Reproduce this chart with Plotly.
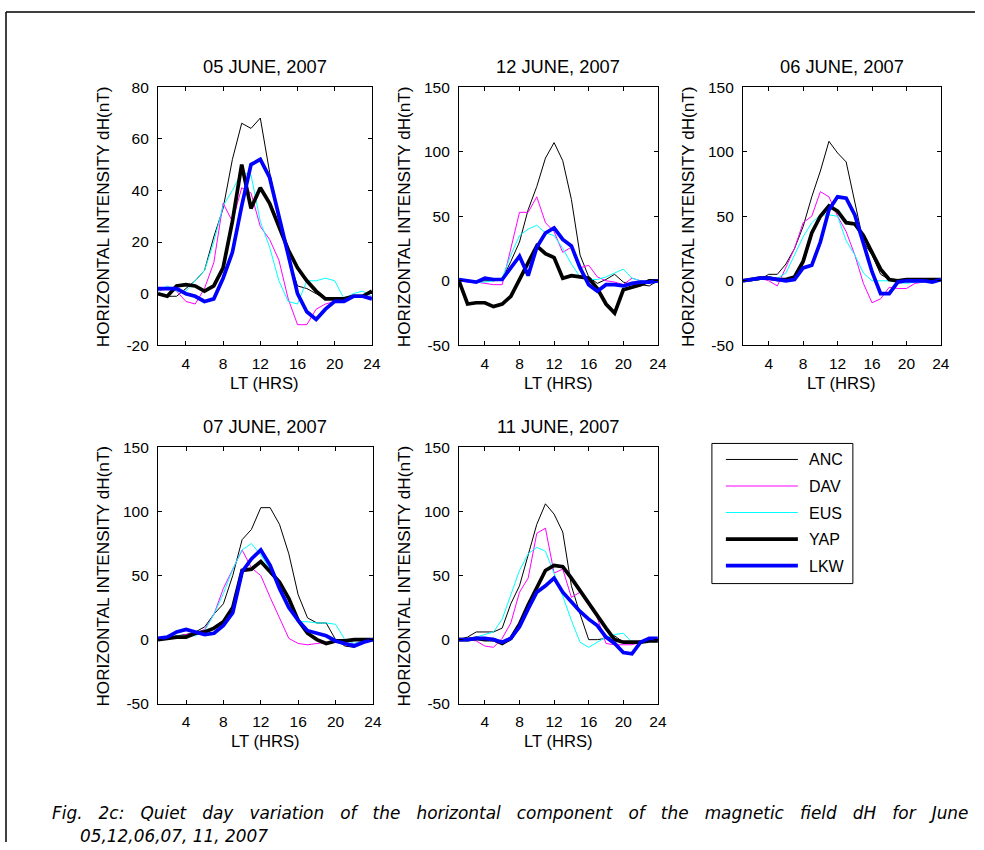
import plotly.graph_objects as go

W, H = 984, 850

hours = list(range(1, 25))
stations = ["ANC", "DAV", "EUS", "YAP", "LKW"]
colors = ["#000000", "#ff00ff", "#00ffff", "#000000", "#0000ff"]
widths = [1, 1, 1, 3.7, 3.7]

day_titles = ["05 JUNE, 2007", "12 JUNE, 2007", "06 JUNE, 2007", "07 JUNE, 2007", "11 JUNE, 2007"]

# ---- 05 June 2007
jun05_anc = [0, -1, -1, 2, 5, 9, 22, 33, 52, 66, 64, 68, 47, 30, 14, 3, 2, 0, -2, -2, -3, -1, -1, 1]
jun05_dav = [1, 2, 1, -3, -4, 2, 12, 35, 28, 41, 39, 26, 21, 13, -2, -12, -12, -6, -4, -3, -3, -1, -1, -1]
jun05_eus = [1, 3, 1, 1, 5, 9, 20, 34, 40, 47, 46, 28, 18, 5, -3, -4, 5, 5, 6, 5, -2, 0, 1, -1]
jun05_yap = [0, -1, 3, 3.5, 3, 1, 3, 10, 28, 50, 33, 41, 35, 26, 17, 10, 5, 1, -2, -2, -2, -1, -1, 1]
jun05_lkw = [2, 2, 2, 0, -1, -3, -2, 6, 16, 34, 50, 52, 45, 30, 15, 0, -7, -10, -6, -3, -3, -1, -1, -2]

# ---- 12 June 2007
jun12_anc = [0, 0, -1, 0, 0, 1, 15, 30, 55, 73, 95, 107, 93, 63, 20, 3, -2, 1, 5, -1, -3, -3, -4, 0]
jun12_dav = [0, -1, -1, -2, -3, -3, 25, 53, 53, 65, 45, 38, 22, 26, 10, 12, 3, 0, -1, -3, 2, 0, -1, 0]
jun12_eus = [0, 0, -1, -1, 0, 2, 20, 35, 40, 43, 37, 35, 25, 13, 3, 1, 1, 3, 6, 9, 2, 0, -1, 0]
jun12_yap = [0, -18, -17, -17, -20, -18, -12, 1, 15, 27, 21, 18, 2, 4, 3, 2, -6, -18, -25, -7, -5, -3, 0, 0]
jun12_lkw = [1, 0, -1, 2, 1, 1, 10, 19, 4, 26, 37, 41, 32, 27, 10, -3, -8, -3, -3, -4, -2, -1, -1, 0]

# ---- 06 June 2007
jun06_anc = [0, 0, 1, 5, 5, 13, 25, 42, 65, 85, 108, 99, 92, 60, 30, 20, 5, 1, 0, 0, 0, 0, 0, 0]
jun06_dav = [0, 0, 2, 0, -4, 10, 25, 45, 50, 69, 65, 50, 38, 20, -2, -17, -14, -5, -6, -6, -2, -1, 0, 0]
jun06_eus = [0, 0, 1, 2, 2, 6, 20, 34, 45, 51, 51, 50, 31, 20, 6, 0, 0, 0, -1, -2, -1, -1, 0, 0]
jun06_yap = [0, 1, 2, 2, 1, 1, 3, 15, 37, 50, 58, 54, 45, 44, 35, 22, 9, 1, 0, 1, 1, 1, 1, 1]
jun06_lkw = [0, 1, 2, 2, 1, 0, 1, 10, 12, 30, 55, 65, 64, 51, 29, 7, -10, -10, -1, 0, 0, 0, -1, 1]

# ---- 07 June 2007
jun07_anc = [0, 1, 3, 4, 6, 10, 20, 28, 50, 78, 86, 103, 103, 90, 67, 35, 17, 13, 13, 0, -5, -6, -1, 0]
jun07_dav = [0, 1, 2, 4, 5, 8, 20, 40, 55, 70, 56, 50, 33, 17, 1, -3, -4, -3, -2, -2, -3, -3, -1, 0]
jun07_eus = [0, 1, 3, 3, 3, 7, 20, 36, 55, 70, 75, 66, 55, 40, 25, 14, 14, 13, 13, 12, 0, -3, -1, 0]
jun07_yap = [0, 1, 2, 2, 5, 6, 9, 14, 25, 54, 55, 61, 53, 45, 32, 15, 5, 0, -3, -1, -1, 0, 0, 0]
jun07_lkw = [1, 2, 6, 8, 6, 4, 5, 11, 21, 53, 63, 70, 58, 40, 25, 15, 7, 5, 3, -1, -3, -5, -2, 0]

# ---- 11 June 2007
jun11_anc = [0, 2, 6, 6, 6, 9, 28, 42, 65, 90, 106, 98, 84, 42, 20, 0, 0, 1, 3, -2, -3, -1, -1, -1]
jun11_dav = [0, 0, -1, -5, -6, 1, 13, 37, 48, 83, 87, 52, 55, 33, 37, 30, 17, -3, -4, -4, -4, -2, -1, -1]
jun11_eus = [0, 0, 2, 4, 6, 16, 35, 54, 67, 72, 69, 52, 34, 15, -2, -6, -2, 2, 4, 5, -2, -2, 0, 1]
jun11_yap = [0, 0, 1, 0, 0, -3, 1, 12, 27, 40, 54, 58, 57, 48, 38, 29, 19, 9, 0, -2, -2, -2, -1, -1]
jun11_lkw = [0, 0, 1, 1, 0, -2, 1, 10, 24, 37, 42, 48, 37, 29, 22, 16, 11, 2, -3, -10, -11, -2, 1, 1]

panels = [
    [jun05_anc, jun05_dav, jun05_eus, jun05_yap, jun05_lkw],
    [jun12_anc, jun12_dav, jun12_eus, jun12_yap, jun12_lkw],
    [jun06_anc, jun06_dav, jun06_eus, jun06_yap, jun06_lkw],
    [jun07_anc, jun07_dav, jun07_eus, jun07_yap, jun07_lkw],
    [jun11_anc, jun11_dav, jun11_eus, jun11_yap, jun11_lkw],
]

x_ticks = [4, 8, 12, 16, 20, 24]
y_ticks_small = [-20, 0, 20, 40, 60, 80]
y_ticks_large = [-50, 0, 50, 100, 150]
y_tick_sets = [y_ticks_small, y_ticks_large, y_ticks_large, y_ticks_large, y_ticks_large]

# plot boxes in target pixels: left, right, top, bottom
boxes = [(158, 372, 87, 345), (459, 658, 87, 345), (743, 941, 87, 345),
         (158, 373, 447, 703), (459, 658, 447, 703)]

# the page is photographed slightly scaled; map target pixels to paper coords
SX, SY, OY = 0.991, 0.979, 9.0
FS = 1 / 0.985


def px(x):
    return x / SX / W


def py(y):
    return 1 - ((y - OY) / SY) / H


FONT = "Liberation Sans, Arial, sans-serif"
TICK_SIZE = 15.3 * FS
TITLE_SIZE = 18 * FS
YTITLE_SIZE = 16.9 * FS
XTITLE_SIZE = 16.4 * FS
LEGEND_SIZE = 15.8 * FS

fig = go.Figure()
layout = dict(width=W, height=H, autosize=False,
              margin=dict(l=0, r=0, t=0, b=0, pad=0),
              paper_bgcolor="white", plot_bgcolor="white",
              showlegend=False, font=dict(family=FONT, size=TICK_SIZE, color="black"))
annotations = []
shapes = []

for i, (series, box) in enumerate(zip(panels, boxes)):
    n = i + 1
    xa = "x" if n == 1 else f"x{n}"
    ya = "y" if n == 1 else f"y{n}"
    for name, vals, c, w in zip(stations, series, colors, widths):
        fig.add_trace(go.Scatter(x=hours, y=vals, mode="lines", name=name,
                                 line=dict(color=c, width=w),
                                 xaxis=xa, yaxis=ya, showlegend=False,
                                 hoverinfo="x+y+name"))
    l, r, t, b = box
    common = dict(showline=True, linecolor="black", linewidth=1, mirror="ticks",
                  ticks="inside", ticklen=4, tickcolor="black", showgrid=False,
                  zeroline=False, tickfont=dict(family=FONT, size=TICK_SIZE, color="black"))
    yt = y_tick_sets[i]
    layout["xaxis" if n == 1 else f"xaxis{n}"] = dict(
        domain=[px(l), px(r)], range=[1, 24], tickvals=x_ticks,
        ticktext=[str(v) for v in x_ticks],
        anchor=ya, ticklabelstandoff=4, **common)
    layout["yaxis" if n == 1 else f"yaxis{n}"] = dict(
        domain=[py(b), py(t)], range=[yt[0], yt[-1]], tickvals=yt,
        ticktext=[str(v) for v in yt],
        anchor=xa, ticklabelstandoff=5, **common)
    cx = (l + r) / 2
    annotations.append(dict(text=day_titles[i], x=px(cx), y=py(t - 21), xref="paper", yref="paper",
                            showarrow=False, xanchor="center", yanchor="middle",
                            font=dict(family=FONT, size=TITLE_SIZE, color="black")))
    annotations.append(dict(text="LT (HRS)", x=px(cx), y=py(b + 38), xref="paper", yref="paper",
                            showarrow=False, xanchor="center", yanchor="middle",
                            font=dict(family=FONT, size=XTITLE_SIZE, color="black")))
    annotations.append(dict(text="HORIZONTAL INTENSITY dH(nT)", x=px(l - 55), y=py((t + b) / 2),
                            xref="paper", yref="paper", textangle=-90,
                            showarrow=False, xanchor="center", yanchor="middle",
                            font=dict(family=FONT, size=YTITLE_SIZE, color="black")))

# legend box (drawn by hand to match the long legend lines)
lg_l, lg_r, lg_t, lg_b = 712, 853, 443, 583
shapes.append(dict(type="rect", xref="paper", yref="paper", x0=px(lg_l), x1=px(lg_r),
                   y0=py(lg_b), y1=py(lg_t), line=dict(color="black", width=1), fillcolor="white"))
for k, (name, c, w) in enumerate(zip(stations, colors, widths)):
    yy = 459 + k * 26.5
    shapes.append(dict(type="line", xref="paper", yref="paper", x0=px(726), x1=px(798),
                       y0=py(yy), y1=py(yy), line=dict(color=c, width=w)))
    annotations.append(dict(text=name, x=px(807), y=py(yy), xref="paper", yref="paper",
                            showarrow=False, xanchor="left", yanchor="middle",
                            font=dict(family=FONT, size=LEGEND_SIZE, color="black")))

# outer frame (left and top edges)
shapes.append(dict(type="line", xref="paper", yref="paper", x0=px(6), x1=1, y0=py(12), y1=py(12),
                   line=dict(color="black", width=1.5)))
shapes.append(dict(type="line", xref="paper", yref="paper", x0=px(6), x1=px(6), y0=py(12), y1=0,
                   line=dict(color="black", width=1.5)))

# caption
CAP_FONT = dict(family="DejaVu Sans, sans-serif", size=16.9, color="black", style="italic")
cap1 = "   ".join("Fig. 2c: Quiet day variation of the horizontal component of the magnetic field dH for June".split(" "))
annotations.append(dict(text=cap1,
                        x=px(50), y=py(812), xref="paper", yref="paper", showarrow=False,
                        xanchor="left", yanchor="middle", font=CAP_FONT))
annotations.append(dict(text="05,12,06,07, 11, 2007", x=px(78), y=py(835), xref="paper", yref="paper",
                        showarrow=False, xanchor="left", yanchor="middle", font=CAP_FONT))

layout["annotations"] = annotations
layout["shapes"] = shapes
fig.update_layout(**layout)
fig.write_html(
    "out.html",
    config={"displayModeBar": False},
    post_script=("document.documentElement.style.margin='0';"
                 "document.documentElement.style.overflow='hidden';"
                 "document.body.style.margin='0';"
                 "document.body.style.overflow='hidden';"),
)
